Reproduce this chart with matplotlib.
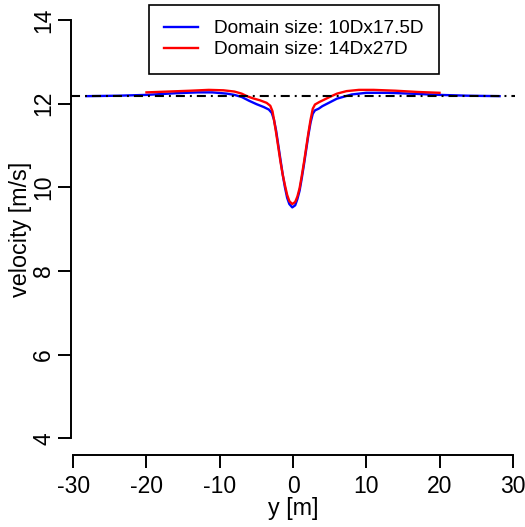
import matplotlib
matplotlib.use("Agg")
import matplotlib.pyplot as plt
import numpy as np

plt.rcParams['font.family'] = ['Liberation Sans', 'DejaVu Sans']
plt.rcParams['lines.scale_dashes'] = False

# lateral wake profile, coarse domain
y_small = [-28.2, -24, -20, -16, -13, -11, -9, -8, -7, -6, -5, -4, -3.3, -2.9,
           -2.6, -2.3, -2.0, -1.7, -1.4, -1.1, -0.8, -0.5, -0.1, 0.3, 0.6, 0.9,
           1.2, 1.5, 1.8, 2.1, 2.4, 2.7, 3.0, 3.5, 4, 5, 6, 7, 8, 10, 13, 16,
           20, 24, 28.2]
u_small = [12.18, 12.19, 12.21, 12.25, 12.27, 12.27, 12.24, 12.21, 12.16, 12.07,
           11.99, 11.92, 11.86, 11.78, 11.62, 11.35, 11.0, 10.65, 10.3, 10.0,
           9.75, 9.6, 9.52, 9.57, 9.72, 9.92, 10.22, 10.55, 10.9, 11.25, 11.55,
           11.76, 11.84, 11.88, 11.94, 12.03, 12.12, 12.17, 12.22, 12.26, 12.26,
           12.24, 12.21, 12.19, 12.18]

# lateral wake profile, large domain
y_large = [-20, -17, -14, -11.5, -9.5, -8, -7, -6.3, -5.5, -4.5, -3.6, -3.1,
           -2.8, -2.6, -2.3, -2.0, -1.7, -1.4, -1.1, -0.8, -0.5, -0.1, 0.3, 0.6,
           0.9, 1.2, 1.5, 1.8, 2.1, 2.4, 2.7, 3.0, 3.6, 4.3, 5.0, 6.0, 7.3, 9,
           11, 14, 17, 20]
u_large = [12.27, 12.29, 12.31, 12.33, 12.32, 12.29, 12.24, 12.18, 12.13, 12.08,
           12.02, 11.95, 11.82, 11.62, 11.3, 10.95, 10.6, 10.3, 10.05, 9.82,
           9.67, 9.6, 9.65, 9.78, 9.98, 10.28, 10.6, 10.95, 11.3, 11.62, 11.88,
           11.98, 12.04, 12.1, 12.16, 12.24, 12.3, 12.33, 12.33, 12.31, 12.28,
           12.26]

u_inflow = 12.18
x_ticks = [-30, -20, -10, 0, 10, 20, 30]
y_ticks = [4, 6, 8, 10, 12, 14]

fig = plt.figure(figsize=(5.25, 5.27), dpi=100)
ax = fig.add_axes([71 / 525, 72 / 527, 444 / 525, 451.7 / 527])

ax.plot(y_small, u_small, color='blue', lw=1.7, label='Domain size: 10Dx17.5D')
ax.plot(y_large, u_large, color='red', lw=1.7, label='Domain size: 14Dx27D')
ax.axhline(u_inflow, color='black', lw=1.5, dashes=(6.5, 3.6, 1.4, 3.6))

ax.set_xlim(-30.3, 30.3)
ax.set_ylim(3.6, 14.4)

for side in ['top', 'right']:
    ax.spines[side].set_visible(False)
ax.spines['left'].set_bounds(4, 14)
ax.spines['bottom'].set_bounds(-30, 30)
ax.spines['left'].set_linewidth(1.4)
ax.spines['bottom'].set_linewidth(1.4)

ax.set_xticks(x_ticks)
ax.set_yticks(y_ticks)
ax.set_xticklabels([str(t) for t in x_ticks])
ax.set_yticklabels([str(t) for t in y_ticks], rotation=90, va='center')
ax.tick_params(axis='both', direction='out', length=9.5, width=1.4, labelsize=16.5)
ax.tick_params(axis='x', pad=5)
ax.tick_params(axis='y', pad=2)

ax.set_xlabel('y [m]', fontsize=16.8, labelpad=-1)
ax.set_ylabel('velocity [m/s]', fontsize=16.8)
ax.yaxis.set_label_coords(-0.087, 0.5)

leg = ax.legend(loc='upper center', bbox_to_anchor=(0.502, 0.997), fontsize=13.7,
                fancybox=False, edgecolor='black', framealpha=1,
                handlelength=1.8, handletextpad=0.85, borderpad=0.8,
                labelspacing=0.2, borderaxespad=0)
leg.get_frame().set_linewidth(1.2)

fig.savefig('out.png', dpi=100)
